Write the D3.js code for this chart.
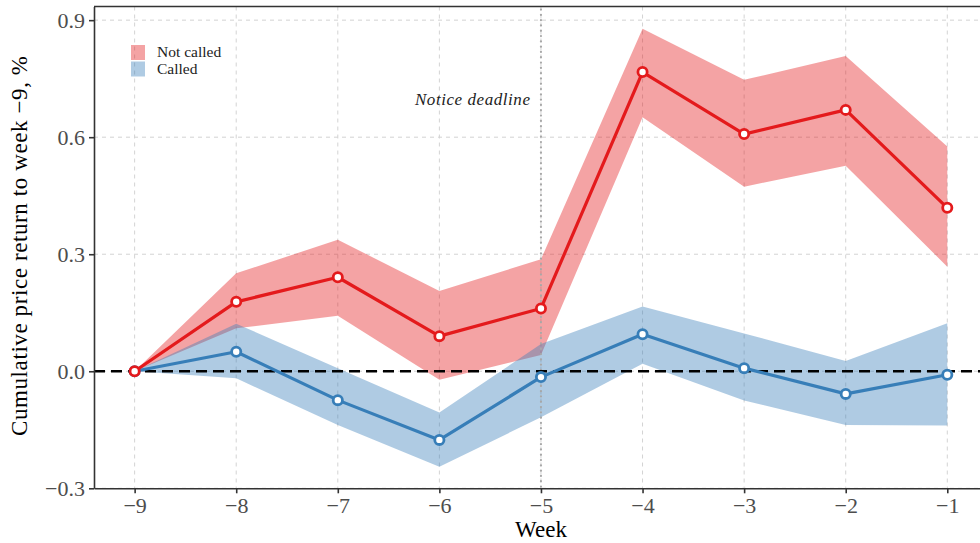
<!DOCTYPE html>
<html><head><meta charset="utf-8">
<script src="https://cdn.jsdelivr.net/npm/d3@7"></script>
<style>body{margin:0;background:#fff}svg{display:block}text{font-family:"Liberation Serif","DejaVu Serif",serif}</style>
</head><body><svg id="c" width="980" height="543"></svg>
<script>
const weeks = [-9,-8,-7,-6,-5,-4,-3,-2,-1];
const notCalled = [0, 0.178, 0.241, 0.090, 0.161, 0.767, 0.608, 0.670, 0.419];
const notCalledLo = [0, 0.110, 0.142, -0.022, 0.042, 0.651, 0.473, 0.527, 0.268];
const notCalledHi = [0, 0.251, 0.337, 0.206, 0.287, 0.878, 0.747, 0.808, 0.576];
const called = [0, 0.050, -0.074, -0.176, -0.015, 0.095, 0.008, -0.058, -0.009];
const calledLo = [0, -0.018, -0.138, -0.245, -0.118, 0.019, -0.075, -0.138, -0.139];
const calledHi = [0, 0.122, 0.008, -0.106, 0.070, 0.166, 0.097, 0.026, 0.123];
const yTicks = [-0.3, 0, 0.3, 0.6, 0.9];
const seriesNames = ["Not called", "Called"];
const deadlineWeek = -5;
const deadlineLabel = "Notice deadline";

const svg = d3.select("#c");
const L = 94, R = 980, T = 6.5, B = 488.3;
const x = d3.scaleLinear().domain([-9.4, -0.678]).range([L, R]);
const y = d3.scaleLinear().domain([-0.3, 0.935]).range([B, T]);
const fmtMinus = s => s.replace("-", "\u2212");

// grid
const g = svg.append("g");
g.selectAll("line.gx").data(weeks).join("line")
  .attr("x1", d => x(d)).attr("x2", d => x(d)).attr("y1", T).attr("y2", B)
  .attr("stroke", "#d3d3d3").attr("stroke-width", 1).attr("stroke-dasharray", "4,4");
g.selectAll("line.gy").data(yTicks).join("line")
  .attr("x1", L).attr("x2", R).attr("y1", d => y(d)).attr("y2", d => y(d))
  .attr("stroke", "#d3d3d3").attr("stroke-width", 1).attr("stroke-dasharray", "4,4");

// ribbons
const area = d3.area().x((d, i) => x(weeks[i])).y0(d => y(d[0])).y1(d => y(d[1]));
const red = "#e41a1c", blue = "#377eb8";
svg.append("path").datum(weeks.map((w, i) => [notCalledLo[i], notCalledHi[i]]))
  .attr("d", area).attr("fill", red).attr("fill-opacity", 0.4);
svg.append("path").datum(weeks.map((w, i) => [calledLo[i], calledHi[i]]))
  .attr("d", area).attr("fill", blue).attr("fill-opacity", 0.4);

// deadline
svg.append("line").attr("x1", x(deadlineWeek)).attr("x2", x(deadlineWeek)).attr("y1", T + 3).attr("y2", B)
  .attr("stroke", "#a8a8a8").attr("stroke-width", 2.2).attr("stroke-dasharray", "0.1,5.2").attr("stroke-linecap", "round");
svg.append("text").attr("x", x(deadlineWeek) - 11).attr("y", 104.5).attr("text-anchor", "end")
  .attr("font-style", "italic").attr("font-size", 17).attr("fill", "#222")
  .attr("textLength", 115).attr("lengthAdjust", "spacing").text(deadlineLabel);

// zero line
svg.append("line").attr("x1", L).attr("x2", R).attr("y1", y(0)).attr("y2", y(0))
  .attr("stroke", "#000").attr("stroke-width", 2.5).attr("stroke-dasharray", "11,6");

// lines & points
const line = d3.line().x((d, i) => x(weeks[i])).y(d => y(d));
[[called, blue], [notCalled, red]].forEach(([vals, col]) => {
  svg.append("path").datum(vals).attr("d", line).attr("fill", "none")
    .attr("stroke", col).attr("stroke-width", 3.2).attr("stroke-linejoin", "round");
  svg.selectAll(null).data(vals).join("circle")
    .attr("cx", (d, i) => x(weeks[i])).attr("cy", d => y(d)).attr("r", 4.6)
    .attr("fill", "#fff").attr("stroke", col).attr("stroke-width", 2.8);
});

// axes
const ax = svg.append("g").attr("transform", `translate(0,${B})`)
  .call(d3.axisBottom(x).tickValues(weeks).tickFormat(d => fmtMinus(String(d))).tickSize(5).tickSizeOuter(0));
const ay = svg.append("g").attr("transform", `translate(${L},0)`)
  .call(d3.axisLeft(y).tickValues(yTicks).tickFormat(d => fmtMinus(d3.format(".1f")(d))).tickSize(5).tickSizeOuter(0));
[ax, ay].forEach(a => {
  a.select(".domain").attr("stroke", "#333").attr("stroke-width", 1.6);
  a.selectAll(".tick line").attr("stroke", "#333").attr("stroke-width", 1.6);
  a.selectAll(".tick text").attr("font-family", "Liberation Serif").attr("font-size", 22).attr("fill", "#4d4d4d");
});
ax.selectAll(".tick text").attr("dy", "0.71em").attr("y", 9);
ay.selectAll(".tick text").attr("x", -9);
// top border
svg.append("line").attr("x1", L).attr("x2", R).attr("y1", T).attr("y2", T).attr("stroke", "#333").attr("stroke-width", 1.6);

// titles
svg.append("text").attr("x", 541).attr("y", 537).attr("text-anchor", "middle").attr("font-size", 23).attr("fill", "#000").text("Week");
svg.append("text").attr("transform", "translate(27,246) rotate(-90)").attr("text-anchor", "middle")
  .attr("font-size", 23).attr("fill", "#000")
  .attr("textLength", 380).attr("lengthAdjust", "spacing").text("Cumulative price return to week \u22129, %");

// legend
const leg = svg.append("g");
[[red, seriesNames[0]], [blue, seriesNames[1]]].forEach(([col, name], i) => {
  leg.append("rect").attr("x", 131).attr("y", 45 + i * 16.5).attr("width", 14).attr("height", 15)
    .attr("fill", col).attr("fill-opacity", 0.4);
  leg.append("text").attr("x", 157).attr("y", 57 + i * 16.5).attr("font-size", 15.5).attr("fill", "#222")
    .text(name);
});
</script></body></html>
